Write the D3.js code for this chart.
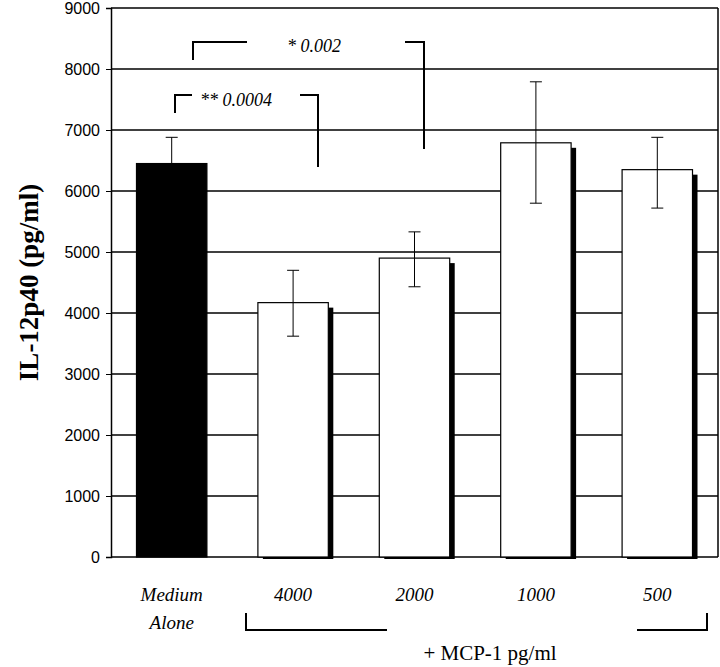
<!DOCTYPE html><html><head><script src="https://cdn.jsdelivr.net/npm/d3@7"></script>
<style>body{margin:0;background:#fff}</style></head><body><svg width="720" height="667"></svg>
<script>
const categories=["Medium|Alone","4000","2000","1000","500"];
const values=[6450,4170,4900,6790,6350];
const errHigh=[6880,4700,5330,7790,6880];
const errLow=[6450,3620,4430,5800,5720];
const yTicks=[0,1000,2000,3000,4000,5000,6000,7000,8000,9000];
const svg=d3.select("svg");
const L=111,R=718,T=8,B=557;
const x=d3.scaleBand().domain(categories).range([L,R]).paddingInner(0.42).paddingOuter(0.21);
const y=d3.scaleLinear().domain([0,9000]).range([B,T]);
const ser="'Liberation Serif', 'DejaVu Serif', serif";
svg.append("g").selectAll("line").data(yTicks).join("line").attr("x1",L).attr("x2",R).attr("y1",d=>y(d)).attr("y2",d=>y(d)).attr("stroke","#000").attr("stroke-width",1.5);
svg.append("line").attr("x1",R).attr("x2",R).attr("y1",T).attr("y2",B).attr("stroke","#000").attr("stroke-width",1.5);
const ax=svg.append("g").attr("transform",`translate(${L},0)`).call(d3.axisLeft(y).tickValues(yTicks).tickSize(5).tickPadding(6).tickFormat(d3.format("d")));
ax.select(".domain").attr("stroke-width",1.5);
ax.selectAll("text").attr("font-family","'Liberation Sans', Arial, sans-serif").attr("font-size",16).attr("fill","#000");
const bw=x.bandwidth();
const g=svg.append("g");
categories.forEach((c,i)=>{
  const x0=x(c);
  if(i>0){g.append("rect").attr("x",x0+5).attr("y",y(values[i])+5).attr("width",bw).attr("height",B+2-y(values[i])-5).attr("fill","#000");}
  g.append("rect").attr("x",x0).attr("y",y(values[i])).attr("width",bw).attr("height",B-y(values[i])).attr("fill",i==0?"#000":"#fff").attr("stroke","#000").attr("stroke-width",1.2);
  const cx=x0+bw/2;
  g.append("line").attr("x1",cx).attr("x2",cx).attr("y1",y(errHigh[i])).attr("y2",y(errLow[i])).attr("stroke","#000");
  [errHigh[i],errLow[i]].forEach((v,k)=>{ if(i==0&&k==1)return;
    g.append("line").attr("x1",cx-6).attr("x2",cx+6).attr("y1",y(v)).attr("y2",y(v)).attr("stroke","#000");});
  const lab=c.split("|");
  lab.forEach((t,k)=>svg.append("text").attr("x",cx).attr("y",601+k*28).attr("text-anchor","middle").attr("font-family",ser).attr("font-style","italic").attr("font-size",19).text(t));
});
function br(pts){svg.append("path").attr("d",d3.line()(pts)).attr("fill","none").attr("stroke","#000").attr("stroke-width",2);}
br([[175,113],[175,95],[192,95]]);br([[300,95],[318,95],[318,167]]);
br([[193,60],[193,42],[247,42]]);br([[405,42],[424,42],[424,149]]);
svg.append("text").attr("x",200).attr("y",106).attr("font-family",ser).attr("font-style","italic").attr("font-size",18).text("** 0.0004");
svg.append("text").attr("x",287).attr("y",52).attr("font-family",ser).attr("font-style","italic").attr("font-size",18).text("* 0.002");
br([[246,613],[246,630],[387,630]]);br([[637,630],[707,630],[707,613]]);
svg.append("text").attr("x",490).attr("y",660).attr("text-anchor","middle").attr("font-family",ser).attr("font-size",21).text("+ MCP-1 pg/ml");
svg.append("text").attr("transform",`translate(38,${(T+B)/2}) rotate(-90)`).attr("text-anchor","middle").attr("font-family",ser).attr("font-weight","bold").attr("font-size",27).text("IL-12p40 (pg/ml)");
</script></body></html>
